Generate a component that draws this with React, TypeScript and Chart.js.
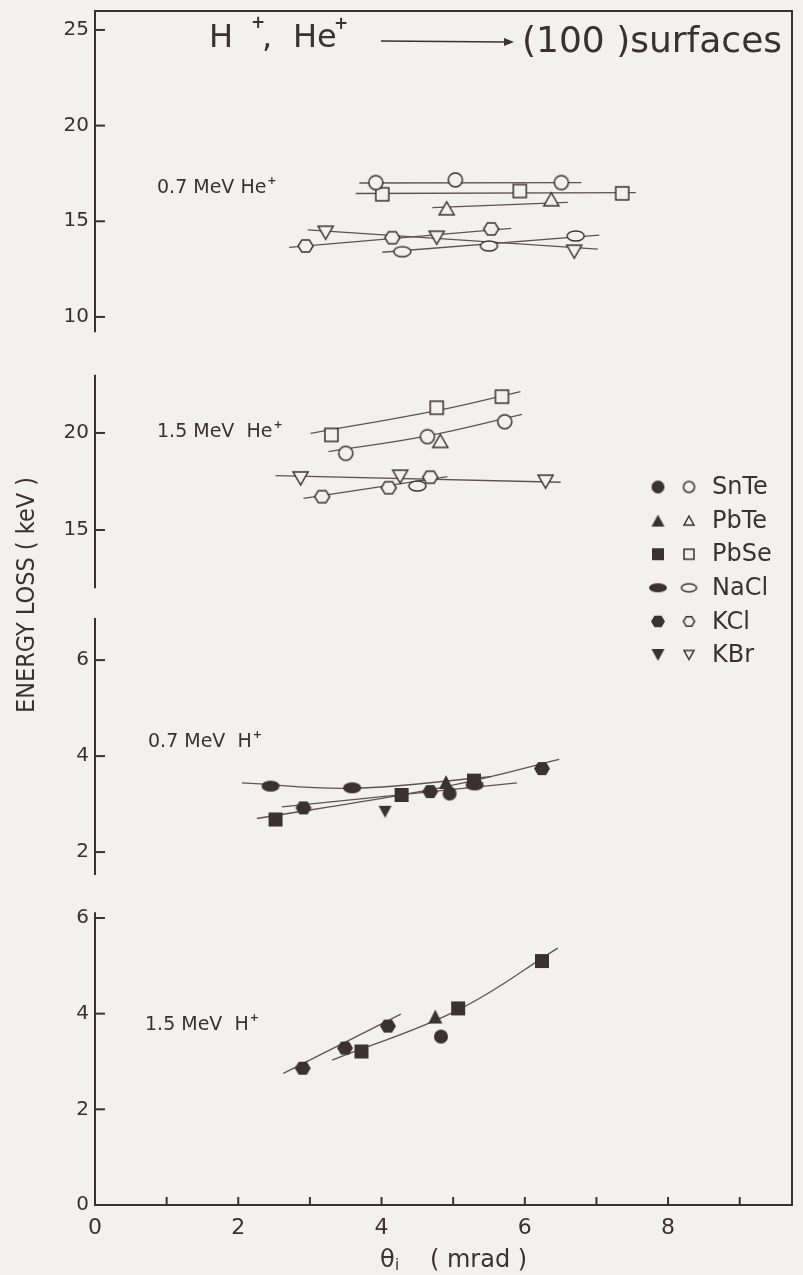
import React, { useEffect, useRef } from "react";
import { Chart, registerables } from "chart.js";

Chart.register(...registerables);

const INK = "#3a3131";
const FIT = "#5e5454";
const PAPER = "#f2f1ef";
const FONT = '"DejaVu Sans", "Liberation Sans", sans-serif';

// ---------- axes ----------
const X_TICKS = [0, 1, 2, 3, 4, 5, 6, 7, 8, 9];
const X_LABELLED = [0, 2, 4, 6, 8];

const HE07_TICKS = [10, 15, 20, 25];
const HE15_TICKS = [15, 20];
const H07_TICKS = [2, 4, 6];
const H15_TICKS = [0, 2, 4, 6];

// ---------- 0.7 MeV He+ (open symbols) ----------
const HE07_SnTe = [[3.92, 17.02], [5.03, 17.16], [6.51, 17.02]];
const HE07_SnTe_FIT = [[3.69, 17.0], [6.79, 17.02]];
const HE07_PbSe = [[4.01, 16.41], [5.93, 16.58], [7.36, 16.46]];
const HE07_PbSe_FIT = [[3.64, 16.45], [7.55, 16.5]];
const HE07_PbTe = [[4.91, 15.68], [6.37, 16.15]];
const HE07_PbTe_FIT = [[4.71, 15.71], [6.6, 15.99]];
const HE07_KCl = [[2.94, 13.71], [4.15, 14.14], [5.53, 14.6]];
const HE07_KCl_FIT = [[2.71, 13.64], [5.81, 14.63]];
const HE07_KBr = [[3.22, 14.4], [4.77, 14.14], [6.69, 13.41]];
const HE07_KBr_FIT = [[2.97, 14.55], [7.02, 13.54]];
const HE07_NaCl = [[4.29, 13.41], [5.5, 13.71], [6.71, 14.23]];
const HE07_NaCl_FIT = [[4.01, 13.38], [7.04, 14.28]];

// ---------- 1.5 MeV He+ (open symbols) ----------
const HE15_PbSe = [[3.3, 19.9], [4.77, 21.3], [5.68, 21.87]];
const HE15_PbSe_FIT = [[3.01, 19.98], [4.77, 21.15], [5.94, 22.13]];
const HE15_SnTe = [[3.5, 18.95], [4.64, 19.81], [5.72, 20.58]];
const HE15_SnTe_FIT = [[3.26, 19.04], [4.64, 19.85], [5.96, 20.96]];
const HE15_PbTe = [[4.82, 19.59]];
const HE15_KBr = [[2.87, 17.66], [4.26, 17.75], [6.29, 17.49]];
const HE15_KBr_FIT = [[2.52, 17.8], [6.5, 17.46]];
const HE15_KCl = [[3.17, 16.72], [4.1, 17.18], [4.68, 17.72]];
const HE15_KCl_FIT = [[2.91, 16.63], [4.92, 17.75]];
const HE15_NaCl = [[4.5, 17.27]];

// ---------- 0.7 MeV H+ (filled symbols) ----------
const H07_NaCl = [[2.45, 3.375], [3.59, 3.34], [5.3, 3.4]];
const H07_NaCl_FIT = [[2.05, 3.44], [3.6, 3.33], [5.52, 3.57]];
const H07_KCl = [[2.91, 2.92], [4.68, 3.26], [6.24, 3.74]];
const H07_KCl_FIT = [[2.61, 2.94], [5.89, 3.44]];
const H07_PbSe = [[2.52, 2.68], [4.28, 3.19], [5.29, 3.49]];
const H07_PbSe_FIT = [[2.26, 2.7], [4.28, 3.19], [5.29, 3.49], [6.48, 3.93]];
const H07_KBr = [[4.05, 2.84]];
const H07_PbTe = [[4.9, 3.46]];
const H07_SnTe = [[4.95, 3.22]];

// ---------- 1.5 MeV H+ (filled symbols) ----------
const H15_KCl = [[2.9, 2.86], [3.49, 3.28], [4.09, 3.74]];
const H15_KCl_FIT = [[2.63, 2.75], [4.27, 3.99]];
const H15_PbSe = [[3.72, 3.21], [5.07, 4.11], [6.24, 5.1]];
const H15_PbSe_FIT = [[3.31, 3.03], [5.07, 4.08], [6.46, 5.37]];
const H15_PbTe = [[4.75, 3.94]];
const H15_SnTe = [[4.83, 3.52]];

const MATERIALS = ["SnTe", "PbTe", "PbSe", "NaCl", "KCl", "KBr"];
const SHAPE: Record<string, string> = {
  SnTe: "circle",
  PbTe: "triangle",
  PbSe: "square",
  NaCl: "ellipse",
  KCl: "hexagon",
  KBr: "invtriangle",
};

type Series = { axis: string; mat: string; filled: boolean; pts: number[][]; fit?: number[][] };

const SERIES: Series[] = [
  { axis: "yHe07", mat: "SnTe", filled: false, pts: HE07_SnTe, fit: HE07_SnTe_FIT },
  { axis: "yHe07", mat: "PbSe", filled: false, pts: HE07_PbSe, fit: HE07_PbSe_FIT },
  { axis: "yHe07", mat: "PbTe", filled: false, pts: HE07_PbTe, fit: HE07_PbTe_FIT },
  { axis: "yHe07", mat: "KCl", filled: false, pts: HE07_KCl, fit: HE07_KCl_FIT },
  { axis: "yHe07", mat: "KBr", filled: false, pts: HE07_KBr, fit: HE07_KBr_FIT },
  { axis: "yHe07", mat: "NaCl", filled: false, pts: HE07_NaCl, fit: HE07_NaCl_FIT },
  { axis: "yHe15", mat: "PbSe", filled: false, pts: HE15_PbSe, fit: HE15_PbSe_FIT },
  { axis: "yHe15", mat: "SnTe", filled: false, pts: HE15_SnTe, fit: HE15_SnTe_FIT },
  { axis: "yHe15", mat: "PbTe", filled: false, pts: HE15_PbTe },
  { axis: "yHe15", mat: "KBr", filled: false, pts: HE15_KBr, fit: HE15_KBr_FIT },
  { axis: "yHe15", mat: "KCl", filled: false, pts: HE15_KCl, fit: HE15_KCl_FIT },
  { axis: "yHe15", mat: "NaCl", filled: false, pts: HE15_NaCl },
  { axis: "yH07", mat: "NaCl", filled: true, pts: H07_NaCl, fit: H07_NaCl_FIT },
  { axis: "yH07", mat: "KCl", filled: true, pts: H07_KCl, fit: H07_KCl_FIT },
  { axis: "yH07", mat: "PbSe", filled: true, pts: H07_PbSe, fit: H07_PbSe_FIT },
  { axis: "yH07", mat: "KBr", filled: true, pts: H07_KBr },
  { axis: "yH07", mat: "PbTe", filled: true, pts: H07_PbTe },
  { axis: "yH07", mat: "SnTe", filled: true, pts: H07_SnTe },
  { axis: "yH15", mat: "KCl", filled: true, pts: H15_KCl, fit: H15_KCl_FIT },
  { axis: "yH15", mat: "PbSe", filled: true, pts: H15_PbSe, fit: H15_PbSe_FIT },
  { axis: "yH15", mat: "PbTe", filled: true, pts: H15_PbTe },
  { axis: "yH15", mat: "SnTe", filled: true, pts: H15_SnTe },
];

// panel scale ranges [min, max], drawn axis segment [top, bottom] in data units
const PANELS = [
  { id: "yHe07", range: [8.48, 25.99], seg: [25.99, 9.2], ticks: HE07_TICKS, h: 335, w: 4 },
  { id: "yHe15", range: [11.24, 24.48], seg: [23.0, 12.0], ticks: HE15_TICKS, h: 257, w: 3 },
  { id: "yH07", range: [1.21, 7.19], seg: [6.88, 1.52], ticks: H07_TICKS, h: 287, w: 2 },
  { id: "yH15", range: [0, 6.585], seg: [6.12, 0], ticks: H15_TICKS, h: 315, w: 1 },
];

const MARK_OPEN: Record<string, number[]> = {
  circle: [14, 14], square: [13, 13], triangle: [15, 13], invtriangle: [15, 13], ellipse: [17, 10], hexagon: [15, 14],
};
const MARK_FILLED: Record<string, number[]> = {
  circle: [14, 14], square: [14, 14], triangle: [14, 14], invtriangle: [13, 12], ellipse: [18, 11], hexagon: [16, 15],
};
const LEG_FILLED: Record<string, number[]> = {
  circle: [13, 13], triangle: [13, 12], square: [12, 12], ellipse: [18, 9], hexagon: [14, 13], invtriangle: [13, 12],
};
const LEG_OPEN: Record<string, number[]> = {
  circle: [11, 11], triangle: [10, 9], square: [10, 10], ellipse: [15, 8], hexagon: [11, 11], invtriangle: [10, 9],
};

function makeMarker(shape: string, filled: boolean, w: number, h: number): HTMLCanvasElement {
  const pad = 2;
  const c = document.createElement("canvas");
  c.width = Math.ceil(w + pad * 2);
  c.height = Math.ceil(h + pad * 2);
  const ctx = c.getContext("2d")!;
  const cx = c.width / 2;
  const cy = c.height / 2;
  ctx.beginPath();
  if (shape === "circle") ctx.arc(cx, cy, w / 2, 0, Math.PI * 2);
  else if (shape === "square") ctx.rect(cx - w / 2, cy - h / 2, w, h);
  else if (shape === "triangle") {
    ctx.moveTo(cx, cy - h / 2);
    ctx.lineTo(cx + w / 2, cy + h / 2);
    ctx.lineTo(cx - w / 2, cy + h / 2);
    ctx.closePath();
  } else if (shape === "invtriangle") {
    ctx.moveTo(cx - w / 2, cy - h / 2);
    ctx.lineTo(cx + w / 2, cy - h / 2);
    ctx.lineTo(cx, cy + h / 2);
    ctx.closePath();
  } else if (shape === "ellipse") ctx.ellipse(cx, cy, w / 2, h / 2, 0, 0, Math.PI * 2);
  else if (shape === "hexagon") {
    for (let i = 0; i < 6; i++) {
      const a = (i * Math.PI) / 3;
      const px = cx + (w / 2) * Math.cos(a);
      const py = cy + (h / 2) * Math.sin(a);
      if (i === 0) ctx.moveTo(px, py);
      else ctx.lineTo(px, py);
    }
    ctx.closePath();
  }
  if (filled) {
    ctx.fillStyle = INK;
    ctx.fill();
  } else {
    ctx.fillStyle = PAPER;
    ctx.fill();
    ctx.strokeStyle = INK;
    ctx.lineWidth = 1.5;
    ctx.stroke();
  }
  return c;
}

const decor = {
  id: "decor",
  afterDraw(chart: any) {
    const { ctx, chartArea: ca, scales } = chart;
    ctx.save();
    ctx.strokeStyle = INK;
    ctx.fillStyle = INK;
    ctx.lineWidth = 2;
    const seg = (x1: number, y1: number, x2: number, y2: number) => {
      ctx.beginPath();
      ctx.moveTo(x1, y1);
      ctx.lineTo(x2, y2);
      ctx.stroke();
    };
    // frame
    seg(ca.left - 1, ca.top, ca.right + 1, ca.top);
    seg(ca.right, ca.top, ca.right, ca.bottom);
    seg(ca.left - 1, ca.bottom, ca.right + 1, ca.bottom);
    // broken y axis with inward ticks
    for (const p of PANELS) {
      const s = scales[p.id];
      seg(ca.left, s.getPixelForValue(p.seg[0]), ca.left, s.getPixelForValue(p.seg[1]));
      for (const v of p.ticks) {
        const y = s.getPixelForValue(v);
        seg(ca.left, y, ca.left + 10, y);
      }
    }
    // x ticks inward
    for (const v of X_TICKS) {
      if (v === 0) continue;
      const x = scales.x.getPixelForValue(v);
      seg(x, ca.bottom, x, ca.bottom - 8);
    }

    // title
    ctx.textAlign = "left";
    ctx.textBaseline = "alphabetic";
    ctx.font = `32px ${FONT}`;
    ctx.fillText("H", 209, 47);
    ctx.fillText(",", 262, 47);
    ctx.fillText("He", 293, 47);
    ctx.font = `bold 17px ${FONT}`;
    ctx.fillText("+", 251, 28);
    ctx.fillText("+", 334, 29);
    ctx.lineWidth = 1.7;
    seg(381, 41, 506, 42);
    ctx.beginPath();
    ctx.moveTo(514, 42);
    ctx.lineTo(504, 38);
    ctx.lineTo(504, 46);
    ctx.closePath();
    ctx.fill();
    ctx.font = `36px ${FONT}`;
    ctx.fillText("(100 )surfaces", 522, 52, 262);

    // panel labels
    const plabel = (main: string, x: number, y: number) => {
      ctx.font = `19px ${FONT}`;
      ctx.fillText(main, x, y);
      const w = ctx.measureText(main).width;
      ctx.font = `bold 11px ${FONT}`;
      ctx.fillText("+", x + w + 1, y - 9);
    };
    plabel("0.7 MeV He", 157, 193);
    plabel("1.5 MeV  He", 157, 437);
    plabel("0.7 MeV  H", 148, 747);
    plabel("1.5 MeV  H", 145, 1030);

    // legend
    MATERIALS.forEach((m, i) => {
      const y = 487 + i * 33.6;
      const sh = SHAPE[m];
      const f = LEG_FILLED[sh];
      const o = LEG_OPEN[sh];
      const mf = makeMarker(sh, true, f[0], f[1]);
      const mo = makeMarker(sh, false, o[0], o[1]);
      ctx.drawImage(mf, 658 - mf.width / 2, y - mf.height / 2);
      ctx.drawImage(mo, 689 - mo.width / 2, y - mo.height / 2);
      ctx.font = `24px ${FONT}`;
      ctx.textBaseline = "middle";
      ctx.fillText(m, 712, y + 1);
      ctx.textBaseline = "alphabetic";
    });

    // y title
    ctx.save();
    ctx.translate(28, 595);
    ctx.rotate(-Math.PI / 2);
    ctx.textAlign = "center";
    ctx.textBaseline = "middle";
    ctx.font = `24px ${FONT}`;
    ctx.fillText("ENERGY LOSS ( keV )", 0, 0, 236);
    ctx.restore();

    // x title
    ctx.textAlign = "left";
    ctx.font = `24px ${FONT}`;
    ctx.fillText("θ", 380, 1267);
    ctx.font = `15px ${FONT}`;
    ctx.fillText("i", 395, 1270);
    ctx.font = `24px ${FONT}`;
    ctx.fillText("( mrad )", 430, 1267, 108);
    ctx.restore();
  },
};

export default function App() {
  const ref = useRef<HTMLCanvasElement>(null);
  useEffect(() => {
    const canvas = ref.current!;
    const datasets: any[] = [];
    for (const s of SERIES) {
      if (s.fit) {
        datasets.push({
          data: s.fit.map(([x, y]) => ({ x, y })),
          yAxisID: s.axis,
          showLine: true,
          borderColor: FIT,
          borderWidth: 1.3,
          pointRadius: 0,
          tension: s.fit.length > 2 ? 0.4 : 0,
          order: 2,
        });
      }
      const sh = SHAPE[s.mat];
      const sz = s.filled ? MARK_FILLED[sh] : MARK_OPEN[sh];
      datasets.push({
        label: s.mat,
        data: s.pts.map(([x, y]) => ({ x, y })),
        yAxisID: s.axis,
        showLine: false,
        pointStyle: makeMarker(sh, s.filled, sz[0], sz[1]),
        pointRadius: 6,
        order: 1,
      });
    }
    const noPad = (s: any) => {
      s.paddingTop = 0;
      s.paddingBottom = 0;
      s.paddingLeft = 0;
      s.paddingRight = 0;
    };
    const scales: any = {
      x: {
        type: "linear",
        min: 0,
        max: 9.73,
        grid: { display: false, drawTicks: false },
        border: { display: false },
        ticks: {
          color: INK,
          font: { family: FONT, size: 22 },
          padding: 10,
          autoSkip: false,
          maxRotation: 0,
          callback: (v: number) => (X_LABELLED.includes(v) ? String(v) : ""),
        },
        afterBuildTicks: (s: any) => {
          s.ticks = X_TICKS.map((v) => ({ value: v }));
        },
        afterFit: (s: any) => {
          s.height = 70;
          noPad(s);
        },
      },
    };
    for (const p of PANELS) {
      scales[p.id] = {
        type: "linear",
        position: "left",
        stack: "panels",
        stackWeight: p.h,
        weight: p.w,
        min: p.range[0],
        max: p.range[1],
        grid: { display: false, drawTicks: false },
        border: { display: false },
        ticks: { color: INK, font: { family: FONT, size: 20 }, padding: 6, autoSkip: false },
        afterBuildTicks: (s: any) => {
          s.ticks = p.ticks.map((v) => ({ value: v }));
        },
        afterFit: (s: any) => {
          s.width = 95;
          noPad(s);
        },
      };
    }
    const chart = new Chart(canvas, {
      type: "scatter",
      data: { datasets },
      options: {
        animation: false,
        responsive: false,
        devicePixelRatio: 1,
        layout: { padding: { top: 11, right: 11, left: 0, bottom: 0 } },
        plugins: { legend: { display: false }, tooltip: { enabled: false }, title: { display: false } },
        scales,
      },
      plugins: [decor],
    } as any);
    return () => chart.destroy();
  }, []);
  return (
    <div
      style={{
        position: "absolute",
        left: 0,
        top: 0,
        width: 803,
        height: 1275,
        background: PAPER,
        overflow: "hidden",
      }}
    >
      <canvas ref={ref} width={803} height={1275} style={{ display: "block", width: 803, height: 1275 }} />
    </div>
  );
}
